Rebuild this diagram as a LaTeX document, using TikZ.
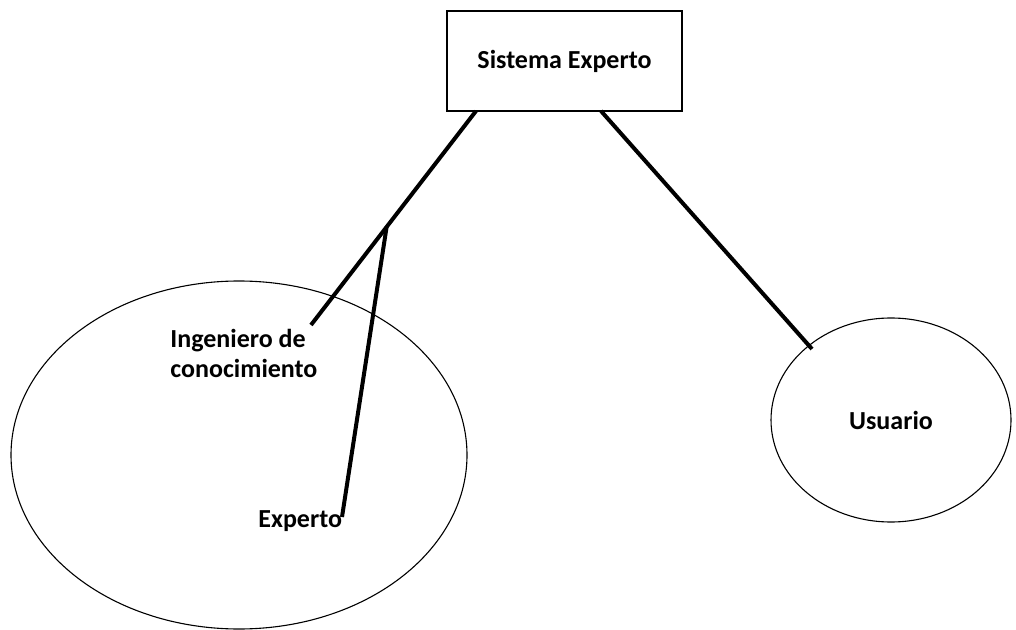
\documentclass[tikz,border=0pt]{standalone}
\usepackage{fontspec}
\setmainfont{Carlito}
\usetikzlibrary{shapes.geometric}
\begin{document}
\begin{tikzpicture}[x=0.5pt,y=-0.5pt,
  label font/.style={font=\bfseries\fontsize{13}{15}\selectfont},
  label text/.style={label font, inner sep=0pt},
  thinshape/.style={draw, line width=0.55pt},
  link/.style={line width=2pt}]
\useasboundingbox (0,0) rectangle (1016,630);

% top box
\node[draw, line width=0.65pt, minimum width=117.5pt, minimum height=50pt, inner sep=0pt,
      label font] (sys) at (564.5,61) {Sistema Experto};

% groups
\node[ellipse, thinshape, minimum width=228pt, minimum height=174pt] (grp) at (239,455) {};
\node[ellipse, thinshape, minimum width=120pt, minimum height=102pt, inner sep=0pt,
      label font] (usr) at (891,420) {Usuario};

% people inside the large group (base anchor sits on the last line)
\node[label text, anchor=base west, align=left] (ing) at (170,378) {Ingeniero de\\conocimiento};
\node[label text, anchor=base west] (exp) at (258,527) {Experto};

% connector end points
\coordinate (sysL) at (476,111);
\coordinate (sysR) at (601,111);
\coordinate (ingEnd) at (311,325);
\coordinate (fork) at (386.6,227);
\coordinate (expEnd) at (342,517);
\coordinate (usrEnd) at (812,349);

\draw[link] (sysL) -- (ingEnd);
\draw[link] (fork) -- (expEnd);
\draw[link] (sysR) -- (usrEnd);
\end{tikzpicture}
\end{document}
